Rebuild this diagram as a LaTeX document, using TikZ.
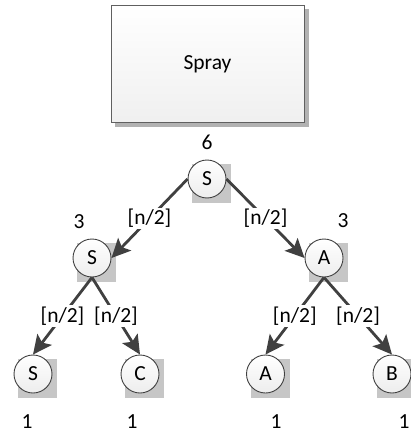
\documentclass[tikz,border=0pt]{standalone}
\usepackage{fontspec}
\setmainfont{Carlito}
\usetikzlibrary{arrows.meta,backgrounds}
\definecolor{edgec}{HTML}{404040}
\definecolor{shadowc}{HTML}{C6C6C6}
\definecolor{boxline}{HTML}{606060}
\tikzset{
  txt/.style={font=\fontsize{21.5}{25}\selectfont, text=black},
  vnode/.style={circle, draw=edgec, line width=0.9pt, top color=white, bottom color=black!7,
    minimum size=38pt, inner sep=0pt, txt},
  spraybox/.style={rectangle, draw=boxline, line width=1pt, top color=white, bottom color=black!6,
    minimum width=193pt, minimum height=116pt, txt},
  edgeline/.style={draw=edgec, line width=2.8pt, -{Stealth[length=19pt,width=18pt,inset=4pt]}},
  lbl/.style={fill=white, inner sep=1.5pt, txt},
  num/.style={txt, inner sep=0pt},
  nshadow/.style={fill=shadowc},
}
\begin{document}
\begin{tikzpicture}[x=1pt,y=-1pt]
\useasboundingbox (0,0) rectangle (411,436);
% box
\node[spraybox] (spray) at (207.5,64) {Spray};
% tree nodes
\node[vnode] (r)  at (207,179) {S};
\node[vnode] (s2) at (92,258) {S};
\node[vnode] (a2) at (324,258) {A};
\node[vnode] (s3) at (33,374) {S};
\node[vnode] (c3) at (140,374) {C};
\node[vnode] (a3) at (265.5,374) {A};
\node[vnode] (b3) at (392,374) {B};
% shadows
\begin{scope}[on background layer]
  \fill[black!30] ([shift={(4,4)}]spray.north west) rectangle ([shift={(4,4)}]spray.south east);
  \foreach \n in {r,s2,a2,s3,c3,a3,b3}{
    \fill[nshadow] ([shift={(-15,-15)}]\n.center) rectangle ([shift={(24,24)}]\n.center);
  }
\end{scope}
% numbers
\node[num] (n6)  at (207,142) {6};
\node[num] (n3a) at (79,222) {3};
\node[num] (n3b) at (343,221) {3};
\node[num] (n1a) at (27,422) {1};
\node[num] (n1b) at (132,422) {1};
\node[num] (n1c) at (276,422) {1};
\node[num] (n1d) at (404,422) {1};
% edges
\draw[edgeline] (r.west) -- node[lbl] {[n/2]} (s2.east);
\draw[edgeline] (r.east) -- node[lbl] {[n/2]} (a2.west);
\draw[edgeline] (s2.south) -- node[lbl] {[n/2]} (s3.north);
\draw[edgeline] (s2.south) -- node[lbl] {[n/2]} (c3.north);
\draw[edgeline] (a2.south) -- node[lbl] {[n/2]} (a3.north);
\draw[edgeline] (a2.south) -- node[lbl] {[n/2]} (b3.north);
\end{tikzpicture}
\end{document}
